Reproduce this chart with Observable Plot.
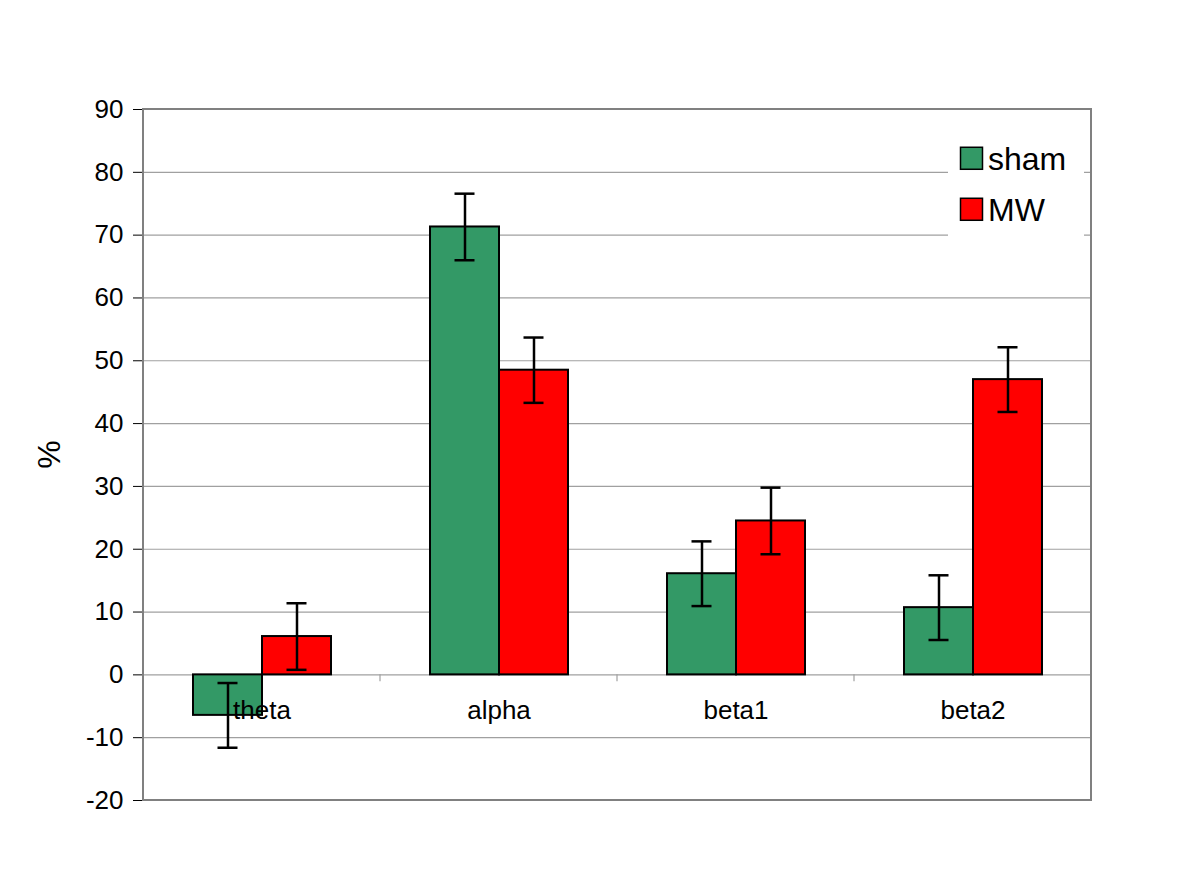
<!DOCTYPE html>
<html>
<head>
<meta charset="utf-8">
<script src="https://cdn.jsdelivr.net/npm/d3@7"></script>
<script src="https://cdn.jsdelivr.net/npm/@observablehq/plot@0.6"></script>
<style>
  html, body { margin: 0; padding: 0; background: #fff; }
  #chart { width: 1200px; height: 895px; }
  #chart svg [aria-label^="y-axis"] text { font-size: 26px; }
</style>
</head>
<body>
<div id="chart"></div>
<script>
const categories = ["theta", "alpha", "beta1", "beta2"];
const seriesNames = ["sham", "MW"];
const seriesColors = ["#339966", "#ff0000"];
const shamValues = [-6.45, 71.3, 16.1, 10.7];
const shamErrors = [5.15, 5.3, 5.15, 5.15];
const mwValues = [6.1, 48.5, 24.5, 47.0];
const mwErrors = [5.3, 5.2, 5.3, 5.15];
const yTicks = [-20, -10, 0, 10, 20, 30, 40, 50, 60, 70, 80, 90];
const yLabel = "%";

const data = [];
categories.forEach((c, i) => {
  data.push({cat: c, series: "sham", value: shamValues[i], err: shamErrors[i]});
  data.push({cat: c, series: "MW", value: mwValues[i], err: mwErrors[i]});
});

const font = "'Liberation Sans', Arial, sans-serif";

const plot = Plot.plot({
  width: 1200,
  height: 895,
  marginLeft: 143,
  marginRight: 109,
  marginTop: 109,
  marginBottom: 95,
  style: {fontFamily: font, fontSize: "26px", background: "#fff", color: "#000", overflow: "visible"},
  fx: {domain: categories, padding: 0, axis: null, label: null},
  x: {domain: seriesNames, paddingInner: 0, paddingOuter: 0.717, axis: null, label: null},
  y: {domain: [-20, 90], ticks: yTicks, tickSize: 10, tickPadding: 10, label: null, tickFormat: d => d},
  color: {domain: seriesNames, range: seriesColors},
  marks: [
    Plot.ruleY(yTicks, {stroke: "#a0a0a0", strokeWidth: 1.2}),
    Plot.barY(data, {fx: "cat", x: "series", y: "value", fill: "series", stroke: "#000", strokeWidth: 2}),
    Plot.ruleX(data, {fx: "cat", x: "series", y1: d => d.value - d.err, y2: d => d.value + d.err, stroke: "#000", strokeWidth: 2.5}),
    Plot.tickY(data, {fx: "cat", x: "series", y: d => d.value - d.err, stroke: "#000", strokeWidth: 2.5, insetLeft: 24.5, insetRight: 24.5}),
    Plot.tickY(data, {fx: "cat", x: "series", y: d => d.value + d.err, stroke: "#000", strokeWidth: 2.5, insetLeft: 24.5, insetRight: 24.5}),
    Plot.text(categories, {fx: d => d, y: () => 0, text: d => d, dy: 36, fontSize: 26, fill: "#000"})
  ]
});

document.getElementById("chart").appendChild(plot);

// Decorations driven by the plot's own scales
const svg = d3.select(plot.tagName.toLowerCase() === "svg" ? plot : plot.querySelector("svg"));
const fxS = plot.scale("fx");
const yS = plot.scale("y");
const fxBand = d3.scaleBand().domain(fxS.domain).range(fxS.range).padding(0);
const yLin = d3.scaleLinear().domain(yS.domain).range(yS.range);
const x0 = fxS.range[0], x1 = fxS.range[1];
const yTop = yLin(90), yBot = yLin(-20), yZero = yLin(0);

// category tick marks on the zero line
categories.slice(1).forEach(c => {
  svg.append("line")
    .attr("x1", fxBand(c)).attr("x2", fxBand(c))
    .attr("y1", yZero).attr("y2", yZero + 7)
    .attr("stroke", "#a0a0a0").attr("stroke-width", 1.2);
});

// plot area border
svg.append("rect")
  .attr("x", x0).attr("y", yTop)
  .attr("width", x1 - x0).attr("height", yBot - yTop)
  .attr("fill", "none").attr("stroke", "#808080").attr("stroke-width", 2);

// y axis label
svg.append("text")
  .attr("transform", `translate(49,${(yTop + yBot) / 2}) rotate(-90)`)
  .attr("text-anchor", "middle").attr("dy", "0.35em")
  .attr("style", `font-family:${font};font-size:32px;fill:#000`)
  .text(yLabel);

// legend
const lg = svg.append("g").attr("transform", `translate(${x1 - 143},${yLin(85.5)})`);
lg.append("rect").attr("x", 0).attr("y", 0).attr("width", 136).attr("height", 100).attr("fill", "#fff");
seriesNames.forEach((s, i) => {
  const cy = 21 + i * 51;
  lg.append("rect").attr("x", 12.5).attr("y", cy - 11).attr("width", 22).attr("height", 22)
    .attr("fill", seriesColors[i]).attr("stroke", "#000").attr("stroke-width", 1.5);
  lg.append("text").attr("x", 40).attr("y", cy).attr("dy", "0.36em")
    .attr("text-anchor", "start")
    .attr("style", `font-family:${font};font-size:32px;fill:#000`).text(s);
});
</script>
</body>
</html>
